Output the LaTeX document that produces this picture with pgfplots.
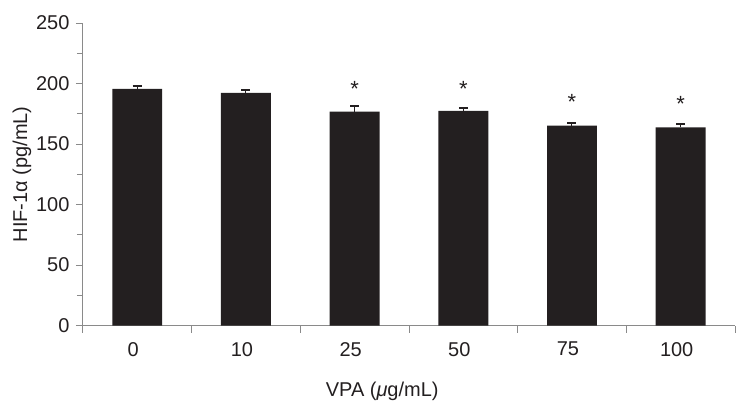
\documentclass[border=0pt]{standalone}
\usepackage{pgfplots}
\pgfplotsset{compat=1.18}
\usepackage{fontspec}
\setmainfont{Liberation Sans}
\definecolor{barc}{HTML}{231F20}
\definecolor{axc}{HTML}{8A8A8A}
\begin{document}
\begin{tikzpicture}
\useasboundingbox (-83pt,-92pt) rectangle (655pt,326pt);
\begin{axis}[
  at={(0,0)}, anchor=south west,
  scale only axis, width=653pt, height=303pt,
  xmin=-0.5, xmax=5.5, ymin=0, ymax=250,
  axis x line*=bottom, axis y line*=left,
  axis line style={axc, line width=0.8pt},
  font=\fontsize{20}{24}\selectfont,
  /pgf/number format/assume math mode=true,
  xtick={-0.5,0.5,1.5,2.5,3.5,4.5,5.5},
  xticklabels={},
  extra x ticks={0,1,2,3,4,5},
  extra x tick labels={0,10,25,50,75,100},
  extra x tick style={tick style={draw=none}},
  ytick={0,50,100,150,200,250},
  minor ytick={25,75,125,175,225},
  tick align=outside,
  tick style={axc, line width=0.8pt},
  minor tick length=6pt,
  major tick length=7pt,
  xticklabel style={yshift=-6pt, xshift=-4pt, text=barc},
  yticklabel style={xshift=-3pt, text=barc},
  ylabel={HIF-1α (pg/mL)},
  xlabel={VPA (\textit{μ}g/mL)},
  label style={text=barc},
  ylabel style={at={(axis description cs:-0.0935,0.5)}, anchor=center},
  xlabel style={at={(axis description cs:0.459,-0.216)}, anchor=center},
  clip=false,
]
\addplot[ybar, bar width=50pt, fill=barc, draw=none,
  error bars/.cd, y dir=plus, y explicit,
  error bar style={barc, line width=1pt},
  error mark options={rotate=90, mark size=4.5pt, line width=2.2pt, barc}]
coordinates {
  (0,195.5) +- (0,2.5)
  (1,192.2) +- (0,2.7)
  (2,176.7) +- (0,4.5)
  (3,177.3) +- (0,2.2)
  (4,165.1) +- (0,2.5)
  (5,163.8) +- (0,2.5)
};
\addplot[draw=none, mark=none, nodes near coords, point meta=explicit symbolic,
  every node near coord/.append style={anchor=base, font=\fontsize{22}{25}\selectfont, text=barc, inner sep=0pt}]
coordinates {
  (2,189.5) [*]
  (3,189.3) [*]
  (4,178.5) [*]
  (5,176.9) [*]
};
\end{axis}
\end{tikzpicture}
\end{document}
